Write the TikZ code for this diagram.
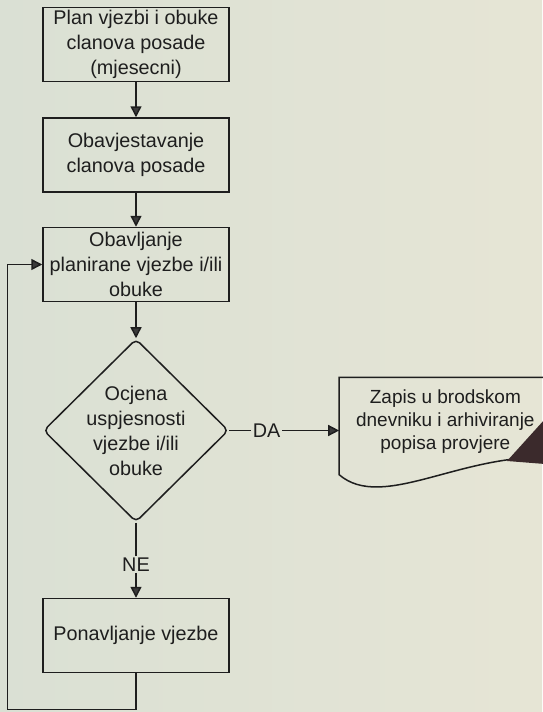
\documentclass[tikz,border=0pt]{standalone}
\usepackage{fontspec}
\setsansfont{Liberation Sans}
\usepackage{tikz}
\usetikzlibrary{arrows.meta,positioning,shapes.geometric}
\definecolor{PaperL}{HTML}{DAE0D4}
\definecolor{PaperR}{HTML}{E6E5D5}
\definecolor{Ink}{HTML}{1E1E1E}
\definecolor{Tip}{HTML}{3A3A3A}
\definecolor{Wedge}{HTML}{3B2A2C}

\begin{document}
\begin{tikzpicture}[
  x=1pt,y=-1pt,
  node distance=35pt,
  txt/.style={font=\sffamily\fontsize{19.8}{25}\selectfont,text=Ink,align=center},
  box/.style={txt,draw=Ink,line width=1.5pt,minimum width=186pt,minimum height=74pt,inner sep=2pt},
  cond/.style={txt,diamond,draw=Ink,line width=1.5pt,minimum width=185pt,minimum height=183pt,inner sep=-2pt,rounded corners=5pt},
  doc/.style={txt,font=\sffamily\fontsize{19}{23}\selectfont,minimum width=212pt,minimum height=88pt,inner sep=0pt},
  lbl/.style={txt,inner sep=1.5pt},
  line/.style={draw=Ink,line width=1.5pt},
  arr/.style={line,-{Triangle[width=11pt,length=11pt,fill=Tip]}}
]
  \useasboundingbox (0,0) rectangle (542,712);
  \shade[left color=PaperL,right color=PaperR] (0,0) rectangle (542,712);

  \node[box] (plan) at (136,44.5) {Plan vjezbi i obuke\\clanova posade\\(mjesecni)};
  \node[box,below=of plan] (obavjest) {Obavjestavanje\\clanova posade};
  \node[box,below=34pt of obavjest] (obavljanje) {Obavljanje\\planirane vjezbe i/ili\\obuke};
  \node[cond,below=36pt of obavljanje] (ocjena) {Ocjena\\uspjesnosti\\vjezbe i/ili\\obuke};
  \node[lbl,right=22pt of ocjena] (da) {DA};
  \node[doc,right=57pt of da,yshift=9pt] (zapis) {Zapis u brodskom\\dnevniku i arhiviranje\\popisa provjere};
  \node[lbl,below=33pt of ocjena] (ne) {NE};
  \node[box,below=25pt of ne] (ponavljanje) {Ponavljanje vjezbe};

  % document outline
  \draw[line] ([yshift=8pt]zapis.south east) -- (zapis.north east) -- (zapis.north west)
    -- ([yshift=-9pt]zapis.south west)
    .. controls +(43,37) and +(-90,-5) .. ([yshift=8pt]zapis.south east);
  \fill[Wedge] (507,461) -- (545,419) -- (545,464) -- cycle;

  \draw[arr] (plan) -- (obavjest);
  \draw[arr] (obavjest) -- (obavljanje);
  \draw[arr] (obavljanje) -- (ocjena);
  \draw[line] (ocjena) -- (da);
  \draw[arr] (da) -- (da -| zapis.west);
  \draw[line] (ocjena) -- (ne);
  \draw[arr] (ne) -- (ponavljanje);
  \draw[arr] (ponavljanje.south) -- ++(0,36) -| ([xshift=-35pt]obavljanje.west) -- (obavljanje.west);
\end{tikzpicture}
\end{document}
